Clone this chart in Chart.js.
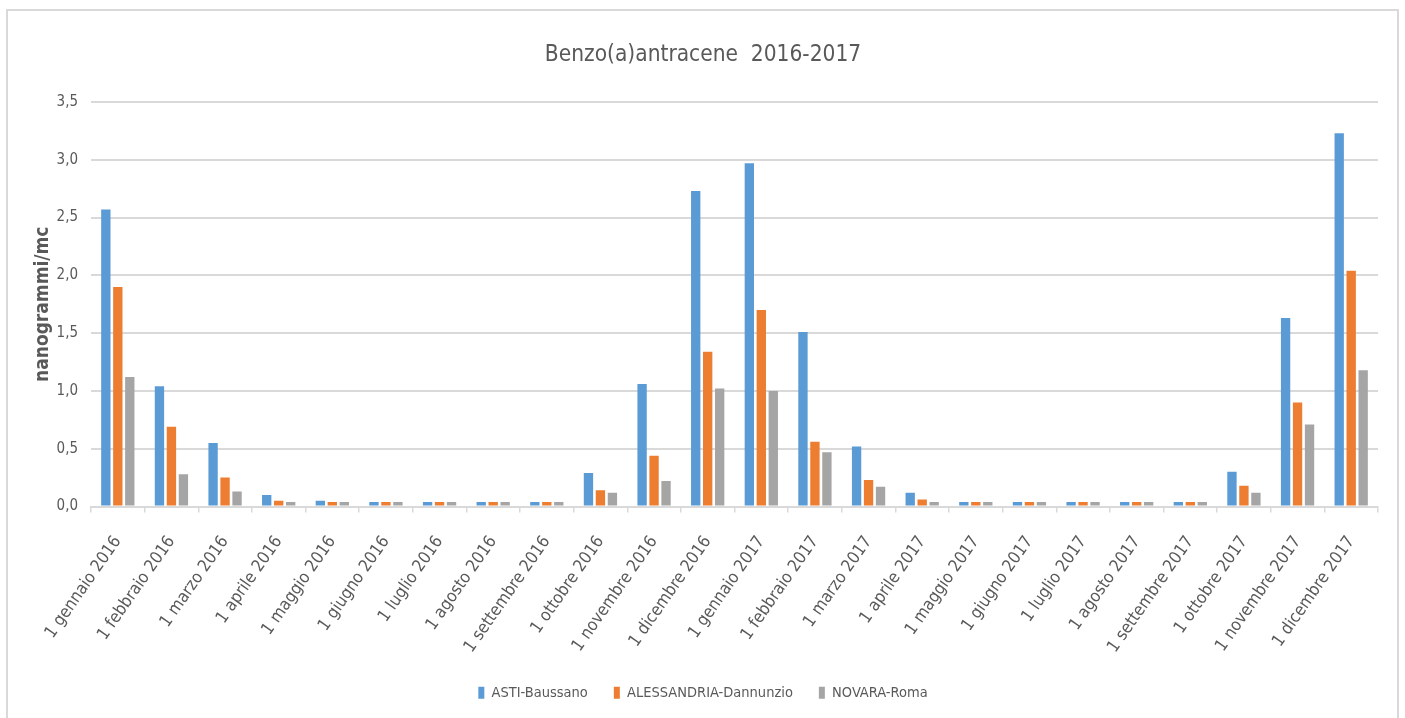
<!DOCTYPE html>
<html lang="it">
<head>
<meta charset="utf-8">
<title>Benzo(a)antracene 2016-2017</title>
<script src="https://cdn.jsdelivr.net/npm/chart.js@4/dist/chart.umd.min.js"></script>
<style>
  html, body { margin: 0; padding: 0; background: #fff; }
  body { width: 1405px; height: 718px; position: relative; overflow: hidden; }
  #frame {
    position: absolute; left: 6px; top: 9px; width: 1389px; height: 740px;
    border: 2px solid #d9d9d9;
  }
  #wrap { position: absolute; left: 0; top: 0; width: 1405px; height: 718px; }
</style>
</head>
<body>
<div id="frame"></div>
<div id="wrap"><canvas id="bap-chart"></canvas></div>
<script>
// Benzo(a)antracene - medie mensili 2016-2017 (ng/m3)

const mesi = [
    '1 gennaio 2016', '1 febbraio 2016', '1 marzo 2016', '1 aprile 2016',
    '1 maggio 2016', '1 giugno 2016', '1 luglio 2016', '1 agosto 2016',
    '1 settembre 2016', '1 ottobre 2016', '1 novembre 2016', '1 dicembre 2016',
    '1 gennaio 2017', '1 febbraio 2017', '1 marzo 2017', '1 aprile 2017',
    '1 maggio 2017', '1 giugno 2017', '1 luglio 2017', '1 agosto 2017',
    '1 settembre 2017', '1 ottobre 2017', '1 novembre 2017', '1 dicembre 2017'
];

const asti = [
    2.57, 1.04, 0.55, 0.10, 0.05, 0.04, 0.04, 0.04, 0.04, 0.29, 1.06, 2.73,
    2.97, 1.51, 0.52, 0.12, 0.04, 0.04, 0.04, 0.04, 0.04, 0.30, 1.63, 3.23
];

const alessandria = [
    1.90, 0.69, 0.25, 0.05, 0.04, 0.04, 0.04, 0.04, 0.04, 0.14, 0.44, 1.34,
    1.70, 0.56, 0.23, 0.06, 0.04, 0.04, 0.04, 0.04, 0.04, 0.18, 0.90, 2.04
];

const novara = [
    1.12, 0.28, 0.13, 0.04, 0.04, 0.04, 0.04, 0.04, 0.04, 0.12, 0.22, 1.02,
    1.00, 0.47, 0.17, 0.04, 0.04, 0.04, 0.04, 0.04, 0.04, 0.12, 0.71, 1.18
];

const yTicks = [0, 0.5, 1.0, 1.5, 2.0, 2.5, 3.0, 3.5];

const FONT = '"DejaVu Sans Condensed", "Liberation Sans Narrow", sans-serif';
const GREY_TEXT = '#595959';
const GRID = '#d9d9d9';

Chart.defaults.font.family = FONT;
Chart.defaults.color = GREY_TEXT;

const ctx = document.getElementById('bap-chart').getContext('2d');

new Chart(ctx, {
    type: 'bar',
    data: {
        labels: mesi,
        datasets: [
            { label: 'ASTI-Baussano', data: asti, backgroundColor: '#5b9bd5' },
            { label: 'ALESSANDRIA-Dannunzio', data: alessandria, backgroundColor: '#ed7d31' },
            { label: 'NOVARA-Roma', data: novara, backgroundColor: '#a5a5a5' }
        ]
    },
    options: {
        responsive: true,
        maintainAspectRatio: false,
        animation: false,
        datasets: {
            bar: { categoryPercentage: 0.67, barPercentage: 0.78 }
        },
        layout: {
            padding: { top: 20, left: 28, right: 27, bottom: 8 }
        },
        scales: {
            x: {
                grid: {
                    display: true,
                    drawOnChartArea: false,
                    drawTicks: true,
                    tickLength: 6,
                    color: GRID,
                    lineWidth: 1.5
                },
                border: { display: true, color: GRID, width: 2 },
                ticks: {
                    autoSkip: false,
                    minRotation: 55,
                    maxRotation: 55,
                    padding: 20,
                    color: GREY_TEXT,
                    font: { size: 17 }
                },
                afterFit: (scale) => { scale.height = 153; }
            },
            y: {
                min: yTicks[0],
                max: yTicks[yTicks.length - 1],
                afterBuildTicks: (scale) => { scale.ticks = yTicks.map(v => ({ value: v })); },
                ticks: {
                    padding: 13,
                    color: GREY_TEXT,
                    font: { size: 15 },
                    callback: (v) => v.toFixed(1).replace('.', ',')
                },
                grid: { color: GRID, lineWidth: 2, drawTicks: false },
                border: { display: false },
                title: {
                    display: true,
                    text: 'nanogrammi/mc',
                    color: GREY_TEXT,
                    font: { size: 19, weight: 'bold' },
                    padding: { top: 4, bottom: 4 }
                },
                afterFit: (scale) => { scale.width = 63; }
            }
        },
        plugins: {
            title: {
                display: true,
                text: 'Benzo(a)antracene  2016-2017',
                color: GREY_TEXT,
                font: { size: 22.5, weight: 'normal' },
                padding: { top: 21.5, bottom: 33.5 }
            },
            legend: {
                position: 'bottom',
                labels: {
                    boxWidth: 6,
                    boxHeight: 12,
                    padding: 26,
                    color: GREY_TEXT,
                    font: { size: 14.5 }
                }
            },
            tooltip: { enabled: false }
        }
    }
});
</script>
</body>
</html>
